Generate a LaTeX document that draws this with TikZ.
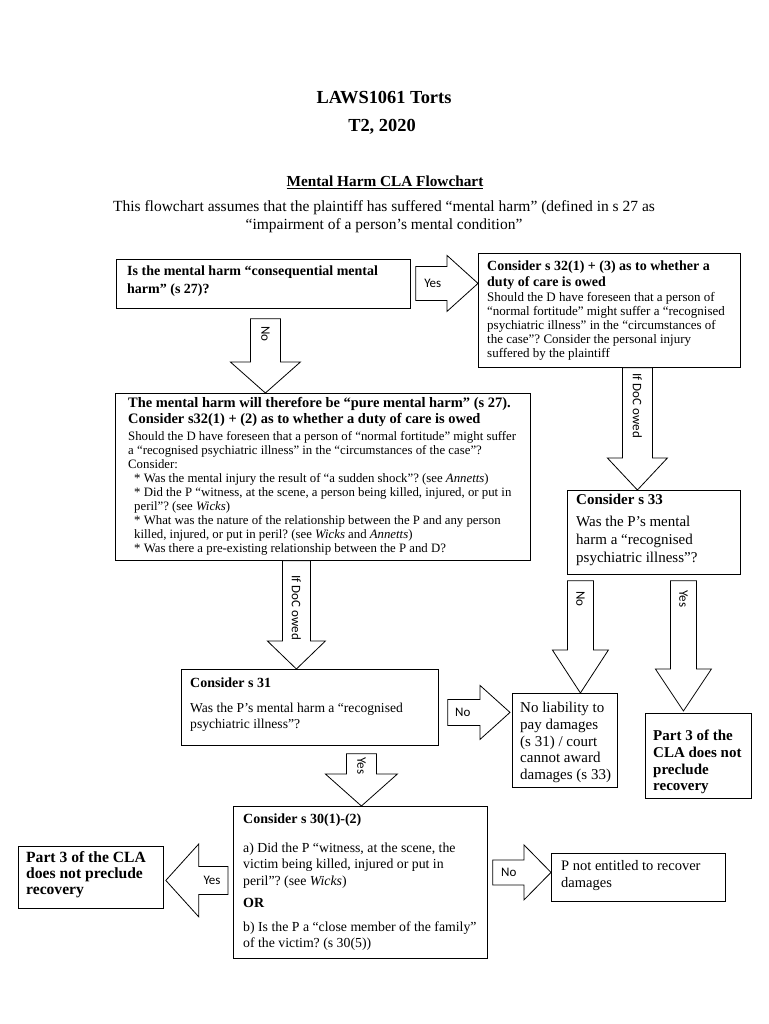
\documentclass[tikz,border=0pt]{standalone}
\usepackage{fontspec}
\setmainfont{Liberation Serif}
\newfontfamily\calfont{Carlito}
\usetikzlibrary{calc}
\frenchspacing
\newcommand\varrow[5]{%
  \draw[blk] let \p1=#1, \p2=#2 in
  (\x1-#3pt,\y1) -- (\x1+#3pt,\y1) -- (\x1+#3pt,\y2+#5pt) -- (\x1+#4pt,\y2+#5pt)
  -- (\x1,\y2) -- (\x1-#4pt,\y2+#5pt) -- (\x1-#3pt,\y2+#5pt) -- cycle;}
\newcommand\rarrow[5]{%
  \draw[blk] let \p1=#1, \p2=#2 in
  (\x1,\y1+#3pt) -- (\x2-#5pt,\y1+#3pt) -- (\x2-#5pt,\y1+#4pt) -- (\x2,\y1)
  -- (\x2-#5pt,\y1-#4pt) -- (\x2-#5pt,\y1-#3pt) -- (\x1,\y1-#3pt) -- cycle;}
\newcommand\larrow[5]{%
  \draw[blk] let \p1=#1, \p2=#2 in
  (\x1,\y1+#3pt) -- (\x2+#5pt,\y1+#3pt) -- (\x2+#5pt,\y1+#4pt) -- (\x2,\y1)
  -- (\x2+#5pt,\y1-#4pt) -- (\x2+#5pt,\y1-#3pt) -- (\x1,\y1-#3pt) -- cycle;}
\begin{document}
\frenchspacing
\begin{tikzpicture}[x=1pt,y=-1pt,
  box/.style={draw, line width=0.8pt, rectangle, inner sep=0pt, anchor=north west},
  txt/.style={anchor=north west, inner sep=0pt, align=left},
  blk/.style={draw, line width=0.8pt, fill=white},
  lbl/.style={font=\calfont\fontsize{13}{13}\selectfont, inner sep=0pt},
  bh/.style={font=\bfseries\fontsize{#1}{#1}\selectfont}]
\useasboundingbox (0,0) rectangle (768,1024);
\fill[white] (0,0) rectangle (768,1024);

% titles
\node[bh=18.4, inner sep=0pt] (title) at (384,98) {LAWS1061 Torts};
\node[bh=18.4, inner sep=0pt] (term) at (382,127) {T2, 2020};
\node[bh=15.3, inner sep=0pt] (head) at (385,182) {\underline{Mental Harm CLA Flowchart}};
\node[inner sep=0pt, align=center, font=\fontsize{15.5}{18}\selectfont] (intro) at (384,217)
  {This flowchart assumes that the plaintiff has suffered “mental harm” (defined in s 27 as\\
   “impairment of a person’s mental condition”};

% boxes
\node[box, minimum width=294, minimum height=49] (A) at (116,259) {};
\node[box, minimum width=262, minimum height=114] (B) at (478,253) {};
\node[box, minimum width=415, minimum height=167] (C) at (115,393) {};
\node[box, minimum width=257, minimum height=76] (D) at (181,669) {};
\node[box, minimum width=105, minimum height=94] (E) at (512,693) {};
\node[box, minimum width=173, minimum height=84] (F) at (567,490) {};
\node[box, minimum width=106, minimum height=85] (G) at (645,713) {};
\node[box, minimum width=254, minimum height=152] (H) at (233,806) {};
\node[box, minimum width=145, minimum height=62] (I) at (18,846) {};
\node[box, minimum width=174, minimum height=48] (J) at (551,853) {};

% texts
\node[txt, font=\bfseries\fontsize{14}{18}\selectfont] (At) at (127,265.7)
  {Is the mental harm “consequential mental\\ harm” (s 27)?};
\node[txt, font=\fontsize{13}{14}\selectfont] (Bt) at (487,260.7)
  {{\bfseries\fontsize{14}{16}\selectfont Consider s 32(1) + (3) as to whether a}\\[2pt]
   {\bfseries\fontsize{14}{16}\selectfont duty of care is owed}\\[1pt]
   Should the D have foreseen that a person of\\
   “normal fortitude” might suffer a “recognised\\
   psychiatric illness” in the “circumstances of\\
   the case”? Consider the personal injury\\
   suffered by the plaintiff};
\node[txt, font=\fontsize{12.8}{14}\selectfont] (Ct) at (128,396.7)
  {{\bfseries\fontsize{14.45}{16}\selectfont The mental harm will therefore be “pure mental harm” (s 27).}\\[2.5pt]
   {\bfseries\fontsize{14.45}{16}\selectfont Consider s32(1) + (2) as to whether a duty of care is owed}\\[2.5pt]
   Should the D have foreseen that a person of “normal fortitude” might suffer\\
   a “recognised psychiatric illness” in the “circumstances of the case”?\\
   Consider:\\
   \hspace*{6pt}* Was the mental injury the result of “a sudden shock”? (see \textit{Annetts})\\
   \hspace*{6pt}* Did the P “witness, at the scene, a person being killed, injured, or put in\\
   \hspace*{6pt}peril”? (see \textit{Wicks})\\
   \hspace*{6pt}* What was the nature of the relationship between the P and any person\\
   \hspace*{6pt}killed, injured, or put in peril? (see \textit{Wicks} and \textit{Annetts})\\
   \hspace*{6pt}* Was there a pre-existing relationship between the P and D?};
\node[txt, font=\fontsize{13.6}{16}\selectfont] (Dt) at (190,677.5)
  {{\bfseries\fontsize{14}{16}\selectfont Consider s 31}\\[9pt]
   Was the P’s mental harm a “recognised\\
   psychiatric illness”?};
\node[txt, font=\fontsize{15}{16.7}\selectfont] (Et) at (520,702)
  {No liability to\\ pay damages\\ (s 31) / court\\ cannot award\\ damages (s 33)};
\node[txt, font=\fontsize{15}{18}\selectfont] (Ft) at (576,494)
  {{\bfseries Consider s 33}\\[4pt]
   Was the P’s mental\\ harm a “recognised\\ psychiatric illness”?};
\node[txt, font=\bfseries\fontsize{15}{16.7}\selectfont] (Gt) at (653,730)
  {Part 3 of the\\ CLA does not\\ preclude\\ recovery};
\node[txt, font=\fontsize{13.8}{16.5}\selectfont] (Ht) at (243,813.5)
  {{\bfseries\fontsize{14}{16}\selectfont Consider s 30(1)-(2)}\\[12.5pt]
   a) Did the P “witness, at the scene, the\\
   victim being killed, injured or put in\\
   peril”? (see \textit{Wicks})\\[5.5pt]
   {\bfseries\fontsize{14}{16}\selectfont OR}\\[7.5pt]
   b) Is the P a “close member of the family”\\
   of the victim? (s 30(5))};
\node[txt, font=\bfseries\fontsize{15.6}{16}\selectfont] (It) at (26,851.2)
  {Part 3 of the CLA\\ does not preclude\\ recovery};
\node[txt, font=\fontsize{14.5}{17}\selectfont] (Jt) at (561,860.5)
  {P not entitled to recover\\ damages};

% block arrows
\coordinate (a1) at ([xshift=2pt,yshift=-10pt]A.south);
\varrow{(a1)}{(C.north)}{15}{35}{31}
\node[lbl, rotate=-90] (l1) at ([yshift=-15pt]a1) {No};

\coordinate (a2) at ([xshift=5pt,yshift=0.5pt]A.east);
\rarrow{(a2)}{(B.west)}{17}{28}{31}
\node[lbl] (l2) at ([xshift=17pt]a2) {Yes};

\coordinate (a3) at ([xshift=28pt]B.south);
\varrow{(a3)}{(F.north)}{15}{30}{32}
\node[lbl, rotate=-90] (l3) at ([yshift=-38pt]a3) {If DoC owed};

\coordinate (a4) at ([xshift=-26.5pt]C.south);
\varrow{(a4)}{(D.north)}{14}{29}{28}
\node[lbl, rotate=-90] (l4) at ([yshift=-47pt]a4) {If DoC owed};

\coordinate (a5) at ([xshift=9pt,yshift=-5pt]D.east);
\rarrow{(a5)}{([xshift=-2pt]E.west)}{13}{27}{30}
\node[lbl] (l5) at ([xshift=15pt]a5) {No};

\coordinate (a6) at ([xshift=-73.5pt,yshift=-6pt]F.south);
\varrow{(a6)}{(E.north)}{13}{28}{43}
\node[lbl, rotate=-90] (l6) at ([yshift=-18pt]a6) {No};

\coordinate (a7) at ([xshift=29.5pt,yshift=-6pt]F.south);
\varrow{(a7)}{([yshift=2pt]G.north)}{13}{28}{42}
\node[lbl, rotate=-90] (l7) at ([yshift=-18pt]a7) {Yes};

\coordinate (a8) at ([xshift=51.5pt,yshift=-8pt]D.south);
\varrow{(a8)}{(H.north)}{15}{36}{32}
\node[lbl, rotate=-90] (l8) at ([yshift=-12pt]a8) {Yes};

\coordinate (a9) at ([xshift=-5pt,yshift=2pt]H.west);
\larrow{(a9)}{([xshift=2pt]I.east)}{14}{36.5}{33}
\node[lbl] (l9) at ([xshift=-16pt]a9) {Yes};

\coordinate (a10) at ([xshift=5pt,yshift=10pt]H.east);
\rarrow{(a10)}{(J.west)}{12.5}{27.5}{27}
\node[lbl] (l10) at ([xshift=16pt]a10) {No};
\end{tikzpicture}
\end{document}
